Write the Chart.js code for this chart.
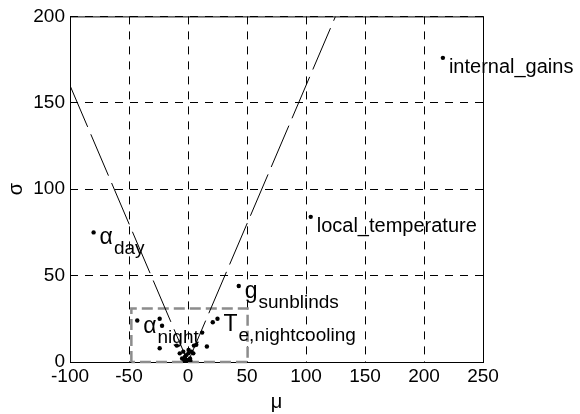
<!DOCTYPE html>
<html>
<head>
    <title>Morris screening</title>
    <script src="https://cdn.jsdelivr.net/npm/chart.js"></script>
    <style>
        body { margin: 0; background: #fff; }
        #wrap { width: 580px; height: 414px; }
    </style>
</head>
<body>
<div id="wrap"><canvas id="myChart" width="580" height="414"></canvas></div>
<script>
// elementary effects: mean (mu) and std (sigma) per parameter
const mu    = [216, 104, -80, 43, 25, 21, -43, -24, -22, -24, 12, 16, 7, 5, 0.5, -9.5, -7, -4, 0.3, 3, 4.5, -2.5, -1, 1.7, -5, 0.3, -3, 2, -1.5];
const sigma = [176,  84,  75, 44, 25, 23,  24,  25,  21,   8, 17,  9, 10, 9.5, 7, 9.5, 5, 6, 5, 6, 5, 3, 1.2, 2, 2, 0.3, 1, 0.8, 4];
// label text: base + subscript (empty = no label)
const labelBase = ['internal_gains', 'local_temperature', '\u03b1', 'g', 'T', '', '\u03b1'];
const labelSub  = ['', '', 'day', 'sunblinds', 'e,nightcooling', '', 'night'];

// sigma = +-1.6 mu reference lines
const leftLineX  = [-100, 0];
const leftLineY  = [160, 0];
const rightLineX = [0, 125];
const rightLineY = [0, 200];

// zoom box
const boxX = [-48, -48, 50.5, 50.5, -48];
const boxY = [0, 31, 31, 0, 0];

const xTicks = [-100, -50, 0, 50, 100, 150, 200, 250];
const yTicks = [0, 50, 100, 150, 200];

const FONT = 'Liberation Sans, Arial, sans-serif';

function toPts(xs, ys) {
    return xs.map((x, i) => ({ x: x, y: ys[i] }));
}

const labelPlugin = {
    id: 'labels',
    beforeDatasetsDraw(chart) {
        const { ctx, chartArea: a } = chart;
        ctx.save();
        ctx.strokeStyle = '#000';
        ctx.lineWidth = 1;
        ctx.strokeRect(a.left + 0.5, a.top + 0.5, a.right - a.left, a.bottom - a.top);
        ctx.restore();
    },
    afterDatasetsDraw(chart) {
        const { ctx } = chart;
        const meta = chart.getDatasetMeta(0);
        ctx.save();
        ctx.fillStyle = '#000';
        ctx.textBaseline = 'alphabetic';
        labelBase.forEach((base, i) => {
            if (!base) return;
            const p = meta.data[i];
            if (labelSub[i]) {
                ctx.font = '23px ' + FONT;
                ctx.fillText(base, p.x + 6, p.y + 12);
                const w = ctx.measureText(base).width;
                ctx.font = '19px ' + FONT;
                ctx.fillText(labelSub[i], p.x + 7 + w, p.y + 22);
            } else {
                ctx.font = '20px ' + FONT;
                ctx.fillText(base, p.x + 6, p.y + 15);
            }
        });
        ctx.restore();
    }
};

const ctx = document.getElementById('myChart').getContext('2d');
const myChart = new Chart(ctx, {
    type: 'scatter',
    data: {
        datasets: [
            {
                data: toPts(mu, sigma),
                backgroundColor: '#000',
                borderColor: '#000',
                pointRadius: 2.2,
                pointBorderWidth: 0
            },
            {
                type: 'line',
                data: toPts(leftLineX, leftLineY),
                borderColor: '#000',
                borderWidth: 1,
                borderDash: [45, 8],
                pointRadius: 0,
                fill: false
            },
            {
                type: 'line',
                data: toPts(rightLineX, rightLineY),
                borderColor: '#000',
                borderWidth: 1,
                borderDash: [45, 8],
                pointRadius: 0,
                fill: false
            },
            {
                type: 'line',
                data: toPts(boxX, boxY),
                borderColor: '#8c8c8c',
                borderWidth: 2.5,
                borderDash: [11, 5],
                pointRadius: 0,
                fill: false,
                clip: 4
            }
        ]
    },
    options: {
        responsive: false,
        animation: false,
        layout: { padding: { top: 16, right: 97, left: 0, bottom: 0 } },
        plugins: {
            legend: { display: false },
            tooltip: { enabled: false }
        },
        scales: {
            x: {
                type: 'linear',
                min: -100,
                max: 250,
                afterBuildTicks: s => { s.ticks = xTicks.map(v => ({ value: v })); },
                afterFit: s => { s.height = 52; },
                grid: { color: '#000', lineWidth: 1, drawTicks: false },
                border: { display: false, dash: [8, 7] },
                ticks: { color: '#000', font: { family: FONT, size: 19 }, padding: 3, maxRotation: 0 },
                title: { display: true, text: '\u03bc', color: '#000', font: { family: FONT, size: 20 }, padding: { top: 6, bottom: 0 } }
            },
            y: {
                type: 'linear',
                min: 0,
                max: 200,
                afterBuildTicks: s => { s.ticks = yTicks.map(v => ({ value: v })); },
                afterFit: s => { s.width = 70; },
                grid: { color: '#000', lineWidth: 1, drawTicks: false },
                border: { display: false, dash: [8, 7] },
                ticks: { color: '#000', font: { family: FONT, size: 19 }, padding: 5 },
                title: { display: true, text: '\u03c3', color: '#000', font: { family: FONT, size: 20 }, padding: { top: 4, bottom: 0 } }
            }
        }
    },
    plugins: [labelPlugin]
});
</script>
</body>
</html>
